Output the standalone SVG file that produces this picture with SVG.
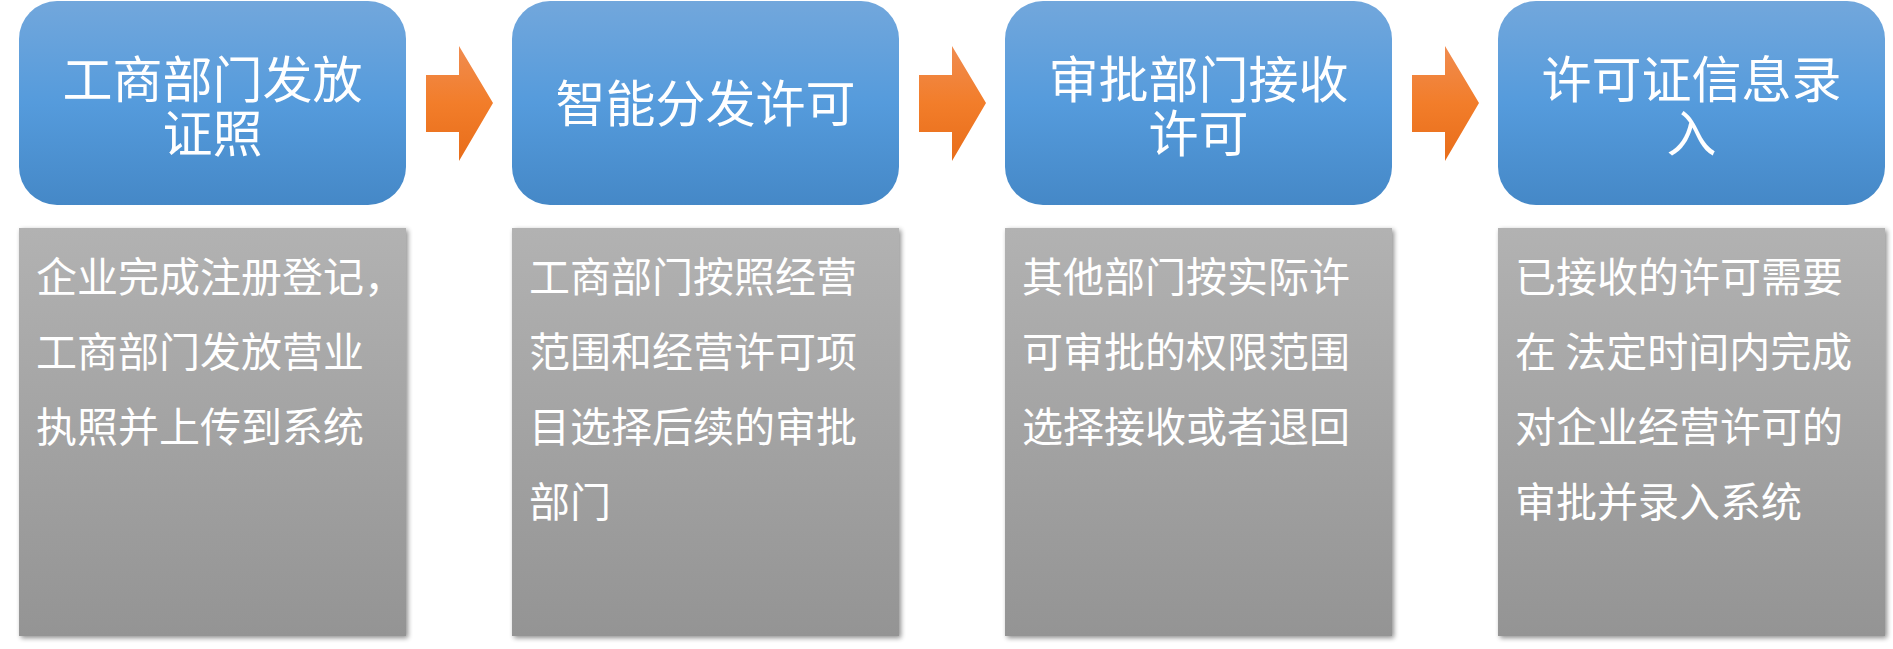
<svg xmlns="http://www.w3.org/2000/svg" width="1893" height="649" viewBox="0 0 1893 649">
<defs>
<linearGradient id="gBlue" x1="0" y1="0" x2="0" y2="1">
<stop offset="0" stop-color="#72A7DC"/>
<stop offset="0.5" stop-color="#559BDC"/>
<stop offset="1" stop-color="#4588C7"/>
</linearGradient>
<linearGradient id="gGray" x1="0" y1="0" x2="0" y2="1">
<stop offset="0" stop-color="#B2B2B2"/>
<stop offset="1" stop-color="#949494"/>
</linearGradient>
<linearGradient id="gOrange" x1="0" y1="0" x2="0" y2="1">
<stop offset="0" stop-color="#F08C50"/>
<stop offset="0.5" stop-color="#F27D2A"/>
<stop offset="1" stop-color="#E86D1A"/>
</linearGradient>
<filter id="shadow" x="-5%" y="-5%" width="112%" height="112%">
<feGaussianBlur in="SourceAlpha" stdDeviation="2.5"/>
<feOffset dx="2" dy="2" result="b"/>
<feComponentTransfer><feFuncA type="linear" slope="0.45"/></feComponentTransfer>
<feMerge><feMergeNode/><feMergeNode in="SourceGraphic"/></feMerge>
</filter>
<path id="arrow" d="M0,29 H33 V0 L67,57 L33,115 V86 H0 Z"/>
</defs>
<style>
.head{fill:url(#gBlue);}
.body{fill:url(#gGray);filter:url(#shadow);}
.arr{fill:url(#gOrange);}
.t{font-family:"Noto Sans CJK SC","Noto Sans",sans-serif;font-size:50px;fill:#FFFFFF;text-anchor:middle;}
.d{font-family:"Noto Sans CJK SC","Noto Sans",sans-serif;font-size:41px;fill:#FFFFFF;}
</style>
<rect width="1893" height="649" fill="#FFFFFF"/>
<g id="connectors">
<use href="#arrow" class="arr" x="426" y="46"/>
<use href="#arrow" class="arr" x="919" y="46"/>
<use href="#arrow" class="arr" x="1412" y="46"/>
</g>
<g id="step1">
<rect class="head" x="19" y="1" width="387" height="204" rx="38" ry="38"/>
<text class="t" x="212.5" y="97.5">工商部门发放<tspan x="212.5" y="152">证照</tspan></text>
<rect class="body" x="19" y="228" width="387" height="408"/>
<text class="d" x="36" y="292">企业完成注册登记，</text>
<text class="d" x="36" y="367">工商部门发放营业</text>
<text class="d" x="36" y="442">执照并上传到系统</text>
</g>
<g id="step2">
<rect class="head" x="512" y="1" width="387" height="204" rx="38" ry="38"/>
<text class="t" x="705.5" y="121.5">智能分发许可</text>
<rect class="body" x="512" y="228" width="387" height="408"/>
<text class="d" x="529" y="292">工商部门按照经营</text>
<text class="d" x="529" y="367">范围和经营许可项</text>
<text class="d" x="529" y="442">目选择后续的审批</text>
<text class="d" x="529" y="517">部门</text>
</g>
<g id="step3">
<rect class="head" x="1005" y="1" width="387" height="204" rx="38" ry="38"/>
<text class="t" x="1198.5" y="97.5">审批部门接收<tspan x="1198.5" y="152">许可</tspan></text>
<rect class="body" x="1005" y="228" width="387" height="408"/>
<text class="d" x="1022" y="292">其他部门按实际许</text>
<text class="d" x="1022" y="367">可审批的权限范围</text>
<text class="d" x="1022" y="442">选择接收或者退回</text>
</g>
<g id="step4">
<rect class="head" x="1498" y="1" width="387" height="204" rx="38" ry="38"/>
<text class="t" x="1691.5" y="97.5">许可证信息录<tspan x="1691.5" y="152">入</tspan></text>
<rect class="body" x="1498" y="228" width="387" height="408"/>
<text class="d" x="1515" y="292">已接收的许可需要</text>
<text class="d" x="1515" y="367" xml:space="preserve">在 法定时间内完成</text>
<text class="d" x="1515" y="442">对企业经营许可的</text>
<text class="d" x="1515" y="517">审批并录入系统</text>
</g>
</svg>
